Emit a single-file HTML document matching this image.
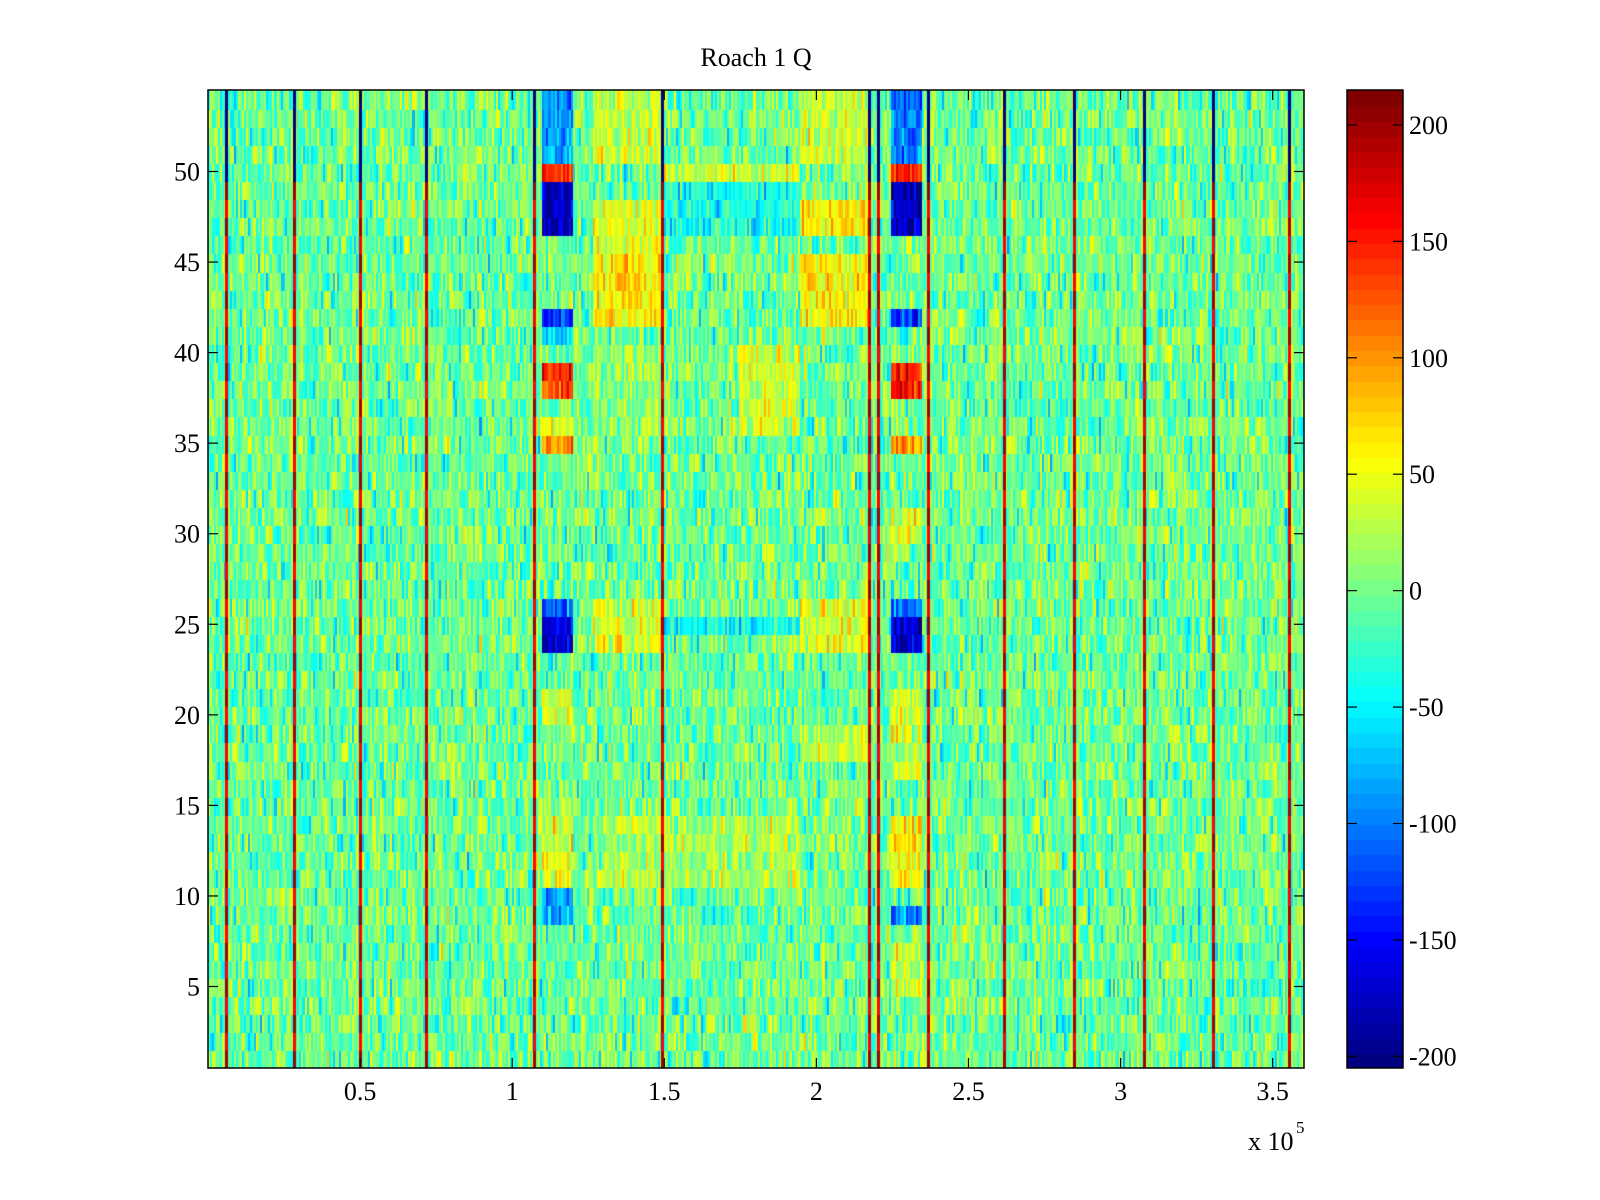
<!DOCTYPE html>
<html><head><meta charset="utf-8"><style>
html,body{margin:0;padding:0;background:#fff;}
#wrap{position:relative;width:1600px;height:1200px;overflow:hidden;font-family:"Liberation Serif",serif;}
canvas{position:absolute;}
svg{position:absolute;left:0;top:0;}
</style></head><body>
<div id="wrap">
<canvas id="hm" width="1096" height="978" style="left:208px;top:90px"></canvas>
<canvas id="cb" width="56" height="978" style="left:1347px;top:90px"></canvas>
<svg id="ov" width="1600" height="1200"></svg>
</div>
<script>
// ---- data ----
const xMax = 3.603;           // x extent in units of 1e5
const nRows = 54;
const nCols = 540;
const cMin = -205, cMax = 215;
const xTicks = [0.5, 1, 1.5, 2, 2.5, 3, 3.5];
const xTickLabels = ["0.5","1","1.5","2","2.5","3","3.5"];
const yTicks = [5,10,15,20,25,30,35,40,45,50];
const cTicks = [200,150,100,50,0,-50,-100,-150,-200];
// vertical spike lines (x in 1e5)
const lineX = [0.061,0.283,0.50,0.719,1.072,1.494,2.176,2.203,2.367,2.619,2.847,3.079,3.307,3.555];
const lineTopValue = -200, lineBottomValue = 200, lineSplitRow = 49.5;
// rectangular feature blocks
const blockX0 = [1.10,1.10,1.10,1.10,1.10,1.10,1.10,1.10,1.10,1.10,1.10,1.10,1.10, 1.27,1.27,1.27,1.27,1.27, 1.50,1.50,1.50,1.75,1.30, 1.95,1.95,1.95,1.95,1.95, 2.25,2.25,2.25,2.25,2.25,2.25,2.25,2.25,2.25,2.25,2.25,2.25,2.25];
const blockX1 = [1.20,1.20,1.20,1.20,1.20,1.20,1.20,1.20,1.20,1.20,1.20,1.20,1.20, 1.50,1.50,1.50,1.50,1.50, 1.95,1.95,1.95,1.95,1.95, 2.18,2.18,2.18,2.18,2.18, 2.35,2.35,2.35,2.35,2.35,2.35,2.35,2.35,2.35,2.35,2.35,2.35,2.35];
const blockR0 = [51,50,47,42,41,38,36,35,26,24,20,11,9, 42,46,24,51,36, 47,50,25,36,11, 42,47,24,51,18, 51,50,47,42,38,35,30,24,26,11,9,5,17];
const blockR1 = [54,50,49,42,41,39,36,35,26,25,21,14,10, 45,48,26,54,40, 49,50,25,40,14, 45,48,26,54,19, 54,50,49,42,39,35,31,25,26,14,9,7,21];
const blockV  = [-80,150,-170,-130,-60,140,55,100,-100,-170,40,45,-75, 65,45,45,40,15, -35,40,-40,35,25, 65,65,45,35,35, -100,150,-175,-130,150,100,45,-170,-100,65,-100,35,35];

function jet(v){
  let t=(v-cMin)/(cMax-cMin); t=Math.max(0,Math.min(1,t));
  t=Math.min(63,Math.floor(t*64))/63;
  const r=Math.max(0,Math.min(1,Math.min(4*t-1.5,-4*t+4.5)));
  const g=Math.max(0,Math.min(1,Math.min(4*t-0.5,-4*t+3.5)));
  const b=Math.max(0,Math.min(1,Math.min(4*t+0.5,-4*t+2.5)));
  return `rgb(${Math.round(r*255)},${Math.round(g*255)},${Math.round(b*255)})`;
}
function h(i,j,k){let x=Math.sin(i*12.9898+j*78.233+k*37.719)*43758.5453;return x-Math.floor(x);}
// texture (not data): deterministic grain
function grain(c,r){return (h(c,r,1)+h(c,r,2)+h(c,r,3)-1.5)*60-3;}

const PL=208,PT=90,PW=1096,PH=978;
const xs=v=>PL+v/xMax*PW;
const ys=v=>PT+(nRows+0.5-v)/nRows*PH;

const ctx=document.getElementById('hm').getContext('2d');
const cw=PW/nCols, rh=PH/nRows;
const lineCols=lineX.map(x=>Math.floor(x/xMax*nCols));
for(let c=0;c<nCols;c++){
  const xd=(c+0.5)/nCols*xMax;
  for(let r=1;r<=nRows;r++){
    let v=grain(c,r);
    for(let b=0;b<blockV.length;b++){
      if(xd>=blockX0[b]&&xd<=blockX1[b]&&r>=blockR0[b]&&r<=blockR1[b]){v=blockV[b]+grain(c,r)*0.75;}
    }
    ctx.fillStyle=jet(v);
    const y0=(nRows-r)*rh;
    ctx.fillRect(Math.floor(c*cw),Math.floor(y0),Math.ceil(cw)+1,Math.ceil(rh)+1);
  }
}
// spike lines drawn on top, slightly wider
lineX.forEach(lx=>{
  const px=lx/xMax*PW;
  for(let r=1;r<=nRows;r++){
    const v=r>lineSplitRow?lineTopValue:(r%2?lineBottomValue:lineBottomValue-40);
    ctx.fillStyle=jet(v);
    const y0=(nRows-r)*rh;
    ctx.fillRect(Math.round(px-1.5),Math.floor(y0),3,Math.ceil(rh)+1);
  }
});
// colorbar
const cctx=document.getElementById('cb').getContext('2d');
for(let i=0;i<64;i++){
  const v=cMin+(i+0.5)/64*(cMax-cMin);
  cctx.fillStyle=jet(v);
  const y1=PH-(i+1)/64*PH;
  cctx.fillRect(0,Math.floor(y1),56,Math.ceil(PH/64)+1);
}
const svg=document.getElementById('ov');
const NS='http://www.w3.org/2000/svg';
function el(tag,attrs,txt){const e=document.createElementNS(NS,tag);for(const k in attrs)e.setAttribute(k,attrs[k]);if(txt!==undefined)e.textContent=txt;svg.appendChild(e);return e;}
let e;
e=el('rect',{x:PL,y:PT,width:PW,height:PH,fill:'none',stroke:'#000','stroke-width':1.5});


e=el('text',{x:756,y:66,'font-size':26,'text-anchor':'middle','font-family':'Liberation Serif, serif'},'Roach 1 Q');


xTicks.forEach((t,i)=>{
  const x=xs(t);
  el('line',{x1:x,x2:x,y1:PT+PH,y2:PT+PH-10,stroke:'#000','stroke-width':1.2});
  el('line',{x1:x,x2:x,y1:PT,y2:PT+10,stroke:'#000','stroke-width':1.2});
  const tx=el('text',{x:x,y:1100,'font-size':26,'text-anchor':'middle'},xTickLabels[i]);
  
  
});
yTicks.forEach(t=>{
  const y=ys(t);
  el('line',{x1:PL,x2:PL+10,y1:y,y2:y,stroke:'#000','stroke-width':1.2});
  el('line',{x1:PL+PW,x2:PL+PW-10,y1:y,y2:y,stroke:'#000','stroke-width':1.2});
  const tx=el('text',{x:PL-8,y:y+9,'font-size':26,'text-anchor':'end'},String(t));
  
  
});
e=el('text',{x:1248,y:1150,'font-size':26},'x 10');


e=el('text',{x:1296,y:1133,'font-size':17},'5');


e=el('rect',{x:1347,y:PT,width:56,height:PH,fill:'none',stroke:'#000','stroke-width':1.5});


cTicks.forEach(t=>{
  const y=PT+(cMax-t)/(cMax-cMin)*PH;
  el('line',{x1:1347,x2:1357,y1:y,y2:y,stroke:'#000','stroke-width':1.2});
  el('line',{x1:1403,x2:1393,y1:y,y2:y,stroke:'#000','stroke-width':1.2});
  const tx=el('text',{x:1409,y:y+9,'font-size':26},String(t));
  
  
});
</script>
</body></html>
